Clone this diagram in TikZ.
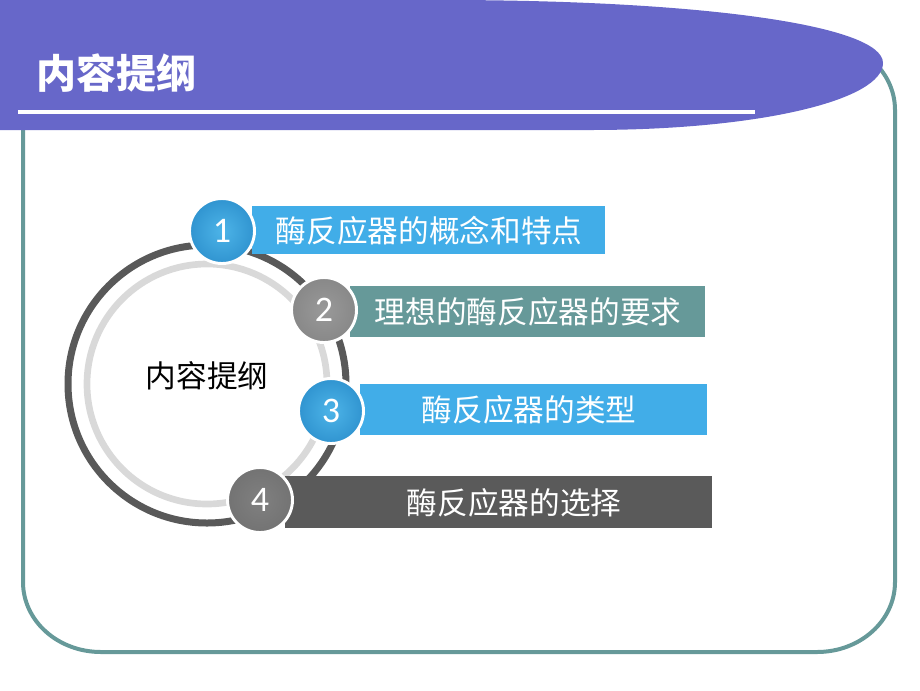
\documentclass[tikz,border=0pt]{standalone}
\usepackage{fontspec}
\newfontfamily\cjk{Noto Sans CJK SC}
\newfontfamily\numfont{Carlito}
\definecolor{banner}{HTML}{6767C9}
\definecolor{framec}{HTML}{669999}
\definecolor{barblue}{HTML}{41ADE8}
\definecolor{barteal}{HTML}{669999}
\definecolor{bardark}{HTML}{5A5A5A}
\definecolor{ringdark}{HTML}{595959}
\definecolor{ringlight}{HTML}{D9D9D9}
\definecolor{cbluein}{HTML}{4DB4E8}
\definecolor{cblueout}{HTML}{3094D0}
\definecolor{cgrayin}{HTML}{999999}
\definecolor{cgrayout}{HTML}{888888}
\definecolor{cgrayBin}{HTML}{808080}
\definecolor{cgrayBout}{HTML}{737373}
\tikzset{
  numcirc/.style={circle, minimum size=48.75pt, inner sep=0pt, draw=white, line width=2.2pt,
    text=white, font=\numfont\fontsize{27}{30}\selectfont},
  bluecirc/.style={numcirc, shading=radial, inner color=cbluein, outer color=cblueout},
  bartext/.style={text=white, font=\cjk\fontsize{23}{28}\selectfont, inner sep=0pt},
}
\begin{document}
\begin{tikzpicture}[x=0.75pt,y=-0.75pt]
\useasboundingbox (0,0) rectangle (920,690);
% frame
\draw[framec, line width=3pt] (101,40) -- (817,40) .. controls (860,40) and (895,71) .. (895,110)
  -- (895,582) .. controls (895,621) and (860,652) .. (817,652) -- (101,652)
  .. controls (58,652) and (23,621) .. (23,582) -- (23,110) .. controls (23,71) and (58,40) .. (101,40) -- cycle;
% banner
\fill[banner] (0,0) -- (442,0) .. controls (700,0) and (883,25) .. (883,63)
  .. controls (883,100) and (760,130) .. (590,130) -- (0,130) -- cycle;
\draw[white, line width=3pt] (18,112) -- (755,112);
\node[white, font=\cjk\bfseries\fontsize{30}{36}\selectfont, anchor=west, inner sep=0pt] (title) at (36,73) {内容提纲};
% rings
\coordinate (ctr) at (207,384);
\draw[ringdark, line width=5.25pt] (ctr) circle[radius=139];
\draw[ringlight, line width=5pt] (ctr) circle[radius=120];
\node[font=\cjk\fontsize{23}{28}\selectfont, inner sep=0pt] (clabel) at (207,376) {内容提纲};
% bars
\fill[barblue] (252,206) rectangle (605,254);
\fill[barteal] (350,286) rectangle (705,337);
\fill[barblue] (360,384) rectangle (707,435);
\fill[bardark] (285,476) rectangle (712,528);
\node[bartext] (t1) at (429,231) {酶反应器的概念和特点};
\node[bartext] (t2) at (528,312) {理想的酶反应器的要求};
\node[bartext] (t3) at (529,410) {酶反应器的类型};
\node[bartext] (t4) at (514,503) {酶反应器的选择};
% number circles
\node[bluecirc] (n1) at (222,231) {1};
\node[numcirc, shading=radial, inner color=cgrayin, outer color=cgrayout] (n2) at (324,310) {2};
\node[bluecirc] (n3) at (331,411) {3};
\node[numcirc, shading=radial, inner color=cgrayBin, outer color=cgrayBout] (n4) at (260,500) {4};
\end{tikzpicture}
\end{document}
